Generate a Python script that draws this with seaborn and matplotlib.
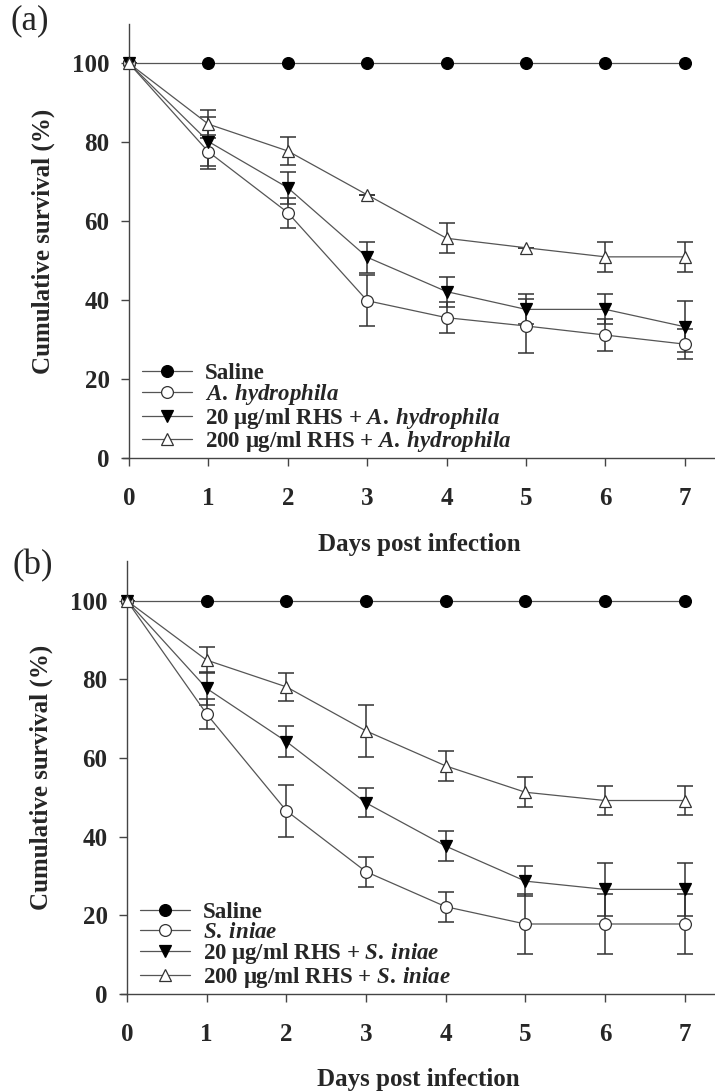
import numpy as np
import pandas as pd
import matplotlib
matplotlib.use("Agg")
import matplotlib.pyplot as plt
import seaborn as sns

sns.set_theme(style="white")
plt.rcParams['font.family'] = ['Liberation Serif', 'DejaVu Serif']
plt.rcParams['font.weight'] = 'bold'
plt.rcParams['mathtext.fontset'] = 'custom'
plt.rcParams['mathtext.it'] = 'Liberation Serif:italic:bold'
plt.rcParams['mathtext.rm'] = 'Liberation Serif:bold'
plt.rcParams['mathtext.bf'] = 'Liberation Serif:bold'

days = [0, 1, 2, 3, 4, 5, 6, 7]

# Panel (a): A. hydrophila
a_saline = [100, 100, 100, 100, 100, 100, 100, 100]
a_path = [100, 77.6, 62.2, 39.9, 35.6, 33.5, 31.2, 28.9]
a_path_err = [0, 4.3, 3.8, 6.4, 4.0, 6.8, 4.0, 3.8]
a_rhs20 = [100, 80.2, 68.5, 50.9, 42.2, 37.7, 37.7, 33.3]
a_rhs20_err = [0, 6.2, 4.0, 3.9, 3.8, 3.8, 3.8, 6.5]
a_rhs200 = [100, 84.6, 77.8, 66.7, 55.7, 53.3, 51.0, 51.0]
a_rhs200_err = [0, 3.5, 3.5, 0, 3.8, 0, 3.8, 3.8]

# Panel (b): S. iniae
b_saline = [100, 100, 100, 100, 100, 100, 100, 100]
b_path = [100, 71.2, 46.6, 31.1, 22.2, 17.8, 17.8, 17.8]
b_path_err = [0, 3.9, 6.6, 3.8, 3.8, 7.7, 7.7, 7.7]
b_rhs20 = [100, 77.7, 64.2, 48.6, 37.6, 28.7, 26.6, 26.6]
b_rhs20_err = [0, 4.3, 3.9, 3.7, 3.9, 3.8, 6.8, 6.8]
b_rhs200 = [100, 84.9, 78.1, 66.9, 58.0, 51.3, 49.2, 49.2]
b_rhs200_err = [0, 3.4, 3.6, 6.6, 3.8, 3.8, 3.8, 3.8]

a_labels = ["Saline", r"$\mathit{A.\:hydrophila}$",
            r"20 μg/ml RHS + $\mathit{A.\:hydrophila}$",
            r"200 μg/ml RHS + $\mathit{A.\:hydrophila}$"]
b_labels = ["Saline", r"$\mathit{S.\:iniae}$",
            r"20 μg/ml RHS + $\mathit{S.\:iniae}$",
            r"200 μg/ml RHS + $\mathit{S.\:iniae}$"]

x_ticks = [0, 1, 2, 3, 4, 5, 6, 7]
y_ticks = [0, 20, 40, 60, 80, 100]

W, H = 715, 1091
fig = plt.figure(figsize=(W / 100, H / 100), dpi=100)

styles = [
    dict(marker='o', mfc='black', mec='black'),
    dict(marker='o', mfc='white', mec='#333333'),
    dict(marker='v', mfc='black', mec='black'),
    dict(marker='^', mfc='white', mec='#333333'),
]
line_col = '#555555'
axis_col = '#444444'


def draw(ax, series, errs, labels):
    for i, (vals, err, lab) in enumerate(zip(series, errs, labels)):
        if err is not None:
            ax.errorbar(days, vals, yerr=err, fmt='none', ecolor='#333333',
                        elinewidth=1.1, capsize=6, capthick=1.1, zorder=2)
        df = pd.DataFrame({'day': days, 'surv': vals})
        st = styles[i]
        sns.lineplot(data=df, x='day', y='surv', ax=ax, color=line_col,
                     linewidth=0.9, marker=st['marker'], markersize=8.5,
                     markerfacecolor=st['mfc'], markeredgecolor=st['mec'],
                     markeredgewidth=0.9, label=lab, zorder=3)
    ax.set_xlim(-0.075, 7.38)
    ax.set_ylim(0, 110)
    ax.spines['left'].set_position(('data', 0))
    ax.spines['top'].set_visible(False)
    ax.spines['right'].set_visible(False)
    for s in ['left', 'bottom']:
        ax.spines[s].set_color(axis_col)
        ax.spines[s].set_linewidth(1.0)
    ax.set_xticks(x_ticks)
    ax.set_yticks(y_ticks)
    ax.tick_params(axis='x', direction='out', length=6, width=1.0, color=axis_col,
                   pad=15, labelsize=18, bottom=True)
    ax.tick_params(axis='y', direction='out', length=6, width=1.0, color=axis_col,
                   pad=8, labelsize=18, left=True)
    for t in ax.get_xticklabels() + ax.get_yticklabels():
        t.set_fontweight('bold')
    ax.set_xlabel('Days post infection', fontsize=18, fontweight='bold', labelpad=16)
    ax.set_ylabel('Cumulative survival (%)', fontsize=18, fontweight='bold', labelpad=12)
    ax.grid(False)
    ax.legend(loc='lower left', bbox_to_anchor=(0.032, 0.01), frameon=False,
              handlelength=2.2, handletextpad=0.55,
              labelspacing=-0.07, borderaxespad=0, borderpad=0,
              prop={'weight': 'bold', 'size': 16.5})


ax1 = fig.add_axes([123 / W, 1 - 458.3 / H, (W - 123) / W, (458.3 - 23.8) / H])
draw(ax1, [a_saline, a_path, a_rhs20, a_rhs200],
     [None, a_path_err, a_rhs20_err, a_rhs200_err], a_labels)

ax2 = fig.add_axes([121 / W, 1 - 994 / H, (W - 121) / W, (994 - 561.4) / H])
draw(ax2, [b_saline, b_path, b_rhs20, b_rhs200],
     [None, b_path_err, b_rhs20_err, b_rhs200_err], b_labels)

fig.text(11 / W, 1 - 4 / H, '(a)', fontsize=25, fontweight='normal', va='top', ha='left')
fig.text(13 / W, 1 - 549 / H, '(b)', fontsize=25, fontweight='normal', va='top', ha='left')

fig.savefig('out.png', dpi=100)
